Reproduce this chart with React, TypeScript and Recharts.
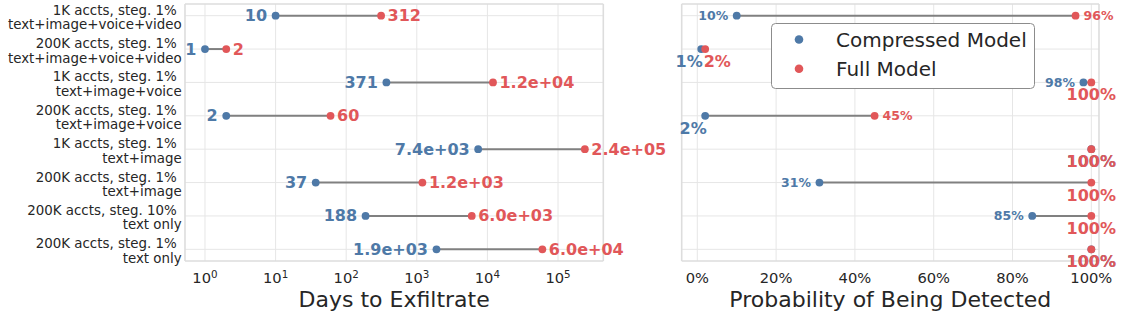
import React from 'react';
import {
  ScatterChart,
  Scatter,
  XAxis,
  YAxis,
  CartesianGrid,
  Legend,
  Label,
} from 'recharts';

const categories = [
  '1K accts, steg. 1%\ntext+image+voice+video',
  '200K accts, steg. 1%\ntext+image+voice+video',
  '1K accts, steg. 1%\ntext+image+voice',
  '200K accts, steg. 1%\ntext+image+voice',
  '1K accts, steg. 1%\ntext+image',
  '200K accts, steg. 1%\ntext+image',
  '200K accts, steg. 10%\ntext only',
  '200K accts, steg. 1%\ntext only',
];
const compressedDays = [10, 1, 371, 2, 7400, 37, 188, 1900];
const fullDays = [312, 2, 12000, 60, 240000, 1200, 6000, 60000];
const compressedDetect = [10, 1, 98, 2, 100, 31, 85, 100];
const fullDetect = [96, 2, 100, 45, 100, 100, 100, 100];
const dayTicks = [1, 10, 100, 1000, 10000, 100000];
const pctTicks = [0, 20, 40, 60, 80, 100];
const seriesNames = ['Compressed Model', 'Full Model'];
const xTitles = ['Days to Exfiltrate', 'Probability of Being Detected'];

const BLUE = '#4e79a7';
const RED = '#e15759';
const TEXT = '#262626';
const GRID = '#e6e6e6';
const SPINE = '#dddddd';
const FONT = "'DejaVu Sans', sans-serif";

const rowIdx = categories.map((_, i) => i);
const yDomain: [number, number] = [-0.35, 7.35];
const dayDomain: [number, number] = [0.521, 438000];
const pctDomain: [number, number] = [-3.96, 101.95];

const fmtDays = (v: number) =>
  v >= 1000
    ? v.toExponential(1).replace(/e([+-])(\d+)$/, (_m, s, d) => 'e' + s + (d.length < 2 ? '0' + d : d))
    : String(Math.round(v));
const fmtPct = (v: number) => `${Math.round(v)}%`;

const compDaysData = rowIdx.map((i) => ({ x: compressedDays[i], y: i, label: fmtDays(compressedDays[i]) }));
const fullDaysData = rowIdx.map((i) => ({ x: fullDays[i], y: i, label: fmtDays(fullDays[i]) }));
const compPctData = rowIdx.map((i) => ({ x: compressedDetect[i], y: i, label: fmtPct(compressedDetect[i]) }));
const fullPctData = rowIdx.map((i) => ({ x: fullDetect[i], y: i, label: fmtPct(fullDetect[i]) }));

const Empty = () => <g />;
const EmptyTick = () => <g />;

const dayShape = (color: string, side: 'left' | 'right') => (props: any) => {
  const { cx, cy, payload } = props;
  const left = side === 'left';
  return (
    <g>
      <circle cx={cx} cy={cy} r={3.9} fill={color} />
      <text
        x={left ? cx - 8.5 : cx + 6.5}
        y={cy}
        textAnchor={left ? 'end' : 'start'}
        dominantBaseline="central"
        fontSize={16}
        fontWeight="bold"
        fontFamily={FONT}
        fill={color}
      >
        {payload.label}
      </text>
    </g>
  );
};

const pctShape = (color: string, side: 'left' | 'right') => (props: any) => {
  const { cx, cy, payload } = props;
  const v = payload.x;
  const left = side === 'left';
  const below = v < 5 || v > 99;
  let tx: number;
  let anchor: 'start' | 'middle' | 'end';
  if (below) {
    if (v > 99) {
      anchor = 'middle';
      tx = cx;
    } else {
      anchor = left ? 'end' : 'start';
      tx = left ? cx + 1.5 : cx - 1.5;
    }
  } else {
    anchor = left ? 'end' : 'start';
    tx = left ? cx - 8.5 : cx + 8;
  }
  return (
    <g>
      <circle cx={cx} cy={cy} r={3.9} fill={color} />
      <text
        x={tx}
        y={below ? cy + 12.5 : cy}
        textAnchor={anchor}
        dominantBaseline="central"
        fontSize={below ? 16 : 12.5}
        fontWeight="bold"
        fontFamily={FONT}
        fill={color}
      >
        {payload.label}
      </text>
    </g>
  );
};

const CatTick = (props: any) => {
  const { x, y, payload } = props;
  const [l1, l2] = categories[payload.value].split('\n');
  return (
    <g>
      <text x={x - 8.3} y={y - 5.5} textAnchor="end" dominantBaseline="central" fontSize={13.4} fontFamily={FONT} fill={TEXT}>
        {l1}
      </text>
      <text x={x - 3.3} y={y + 9} textAnchor="end" dominantBaseline="central" fontSize={13.4} fontFamily={FONT} fill={TEXT}>
        {l2}
      </text>
    </g>
  );
};

const LogTick = (props: any) => {
  const { x, y, payload } = props;
  const exp = Math.round(Math.log10(payload.value));
  return (
    <text x={x} y={y + 22.3} textAnchor="middle" fontSize={14.7} fontFamily={FONT} fill={TEXT}>
      <tspan>10</tspan>
      <tspan dy={-5} fontSize={10.3}>
        {exp}
      </tspan>
    </text>
  );
};

const PctTick = (props: any) => {
  const { x, y, payload } = props;
  return (
    <text x={x} y={y + 22.3} textAnchor="middle" fontSize={14.7} fontFamily={FONT} fill={TEXT}>
      {fmtPct(payload.value)}
    </text>
  );
};

const titleContent = (text: string) => (props: any) => {
  const vb = props.viewBox || {};
  return (
    <text
      x={vb.x + vb.width / 2}
      y={vb.y + 38}
      textAnchor="middle"
      dominantBaseline="central"
      fontSize={22}
      fontFamily={FONT}
      fill={TEXT}
    >
      {text}
    </text>
  );
};

const LegendBox = () => (
  <svg width={264} height={66} style={{ display: 'block' }}>
    <rect x={0.5} y={0.5} width={263} height={65} rx={4} ry={4} fill="#ffffff" stroke="#8c8c8c" strokeWidth={1} />
    {seriesNames.map((name, i) => (
      <g key={name}>
        <circle cx={28} cy={16.5 + i * 29.3} r={4.3} fill={i === 0 ? BLUE : RED} />
        <text x={65} y={16.5 + i * 29.3} dominantBaseline="central" fontSize={20} fontFamily={FONT} fill={TEXT}>
          {name}
        </text>
      </g>
    ))}
  </svg>
);

const segLine = { stroke: '#808080', strokeWidth: 2 };

const LEFT = { w: 680, h: 316, margin: { top: 4, right: 76.7, bottom: 0, left: 0 } };
const RIGHT = { w: 521, h: 316, margin: { top: 4, right: 22, bottom: 0, left: 81.7 } };
const layer: React.CSSProperties = { position: 'absolute', left: 0, top: 0 };

const dayXAxis = (tick: any, title: boolean) => (
  <XAxis
    dataKey="x"
    type="number"
    scale="log"
    domain={dayDomain}
    ticks={dayTicks}
    interval={0}
    height={55}
    axisLine={false}
    tickLine={false}
    tickSize={0}
    tickMargin={0}
    tick={tick}
  >
    {title ? <Label content={titleContent(xTitles[0])} /> : null}
  </XAxis>
);

const pctXAxis = (tick: any, title: boolean) => (
  <XAxis
    dataKey="x"
    type="number"
    domain={pctDomain}
    ticks={pctTicks}
    interval={0}
    height={55}
    axisLine={false}
    tickLine={false}
    tickSize={0}
    tickMargin={0}
    tick={tick}
  >
    {title ? <Label content={titleContent(xTitles[1])} /> : null}
  </XAxis>
);

const rowYAxis = (tick: any, width: number) => (
  <YAxis
    dataKey="y"
    type="number"
    domain={yDomain}
    reversed
    ticks={rowIdx}
    interval={0}
    width={width}
    axisLine={false}
    tickLine={false}
    tickSize={0}
    tickMargin={0}
    tick={tick}
  />
);

export default function App() {
  return (
    <div style={{ position: 'absolute', left: 0, top: 0, width: 1121, height: 316, background: '#ffffff' }}>
      {/* left panel: background layer (grid, spines, axes) */}
      <div style={{ position: 'absolute', left: 0, top: 0, width: LEFT.w, height: LEFT.h }}>
        <div style={layer}>
          <ScatterChart width={LEFT.w} height={LEFT.h} margin={LEFT.margin} style={{ overflow: 'visible' }}>
            <CartesianGrid stroke={GRID} strokeWidth={1} horizontalValues={rowIdx} verticalValues={dayTicks} />
            <CartesianGrid stroke={SPINE} strokeWidth={1.6} horizontalValues={yDomain} verticalValues={dayDomain} />
            {dayXAxis(LogTick, true)}
            {rowYAxis(CatTick, 185)}
            <Scatter data={[...compDaysData, ...fullDaysData]} shape={Empty} legendType="none" isAnimationActive={false} />
          </ScatterChart>
        </div>
        {/* left panel: foreground layer (segments, dots, labels) */}
        <div style={layer}>
          <ScatterChart width={LEFT.w} height={LEFT.h} margin={LEFT.margin} style={{ overflow: 'visible' }}>
            {dayXAxis(EmptyTick, false)}
            {rowYAxis(EmptyTick, 185)}
            {rowIdx.map((i) => (
              <Scatter
                key={`seg-d-${i}`}
                data={[
                  { x: compressedDays[i], y: i },
                  { x: fullDays[i], y: i },
                ]}
                line={segLine}
                shape={Empty}
                legendType="none"
                isAnimationActive={false}
              />
            ))}
            <Scatter name={seriesNames[0]} data={compDaysData} shape={dayShape(BLUE, 'left')} isAnimationActive={false} />
            <Scatter name={seriesNames[1]} data={fullDaysData} shape={dayShape(RED, 'right')} isAnimationActive={false} />
          </ScatterChart>
        </div>
      </div>
      {/* right panel */}
      <div style={{ position: 'absolute', left: 600, top: 0, width: RIGHT.w, height: RIGHT.h }}>
        <div style={layer}>
          <ScatterChart width={RIGHT.w} height={RIGHT.h} margin={RIGHT.margin} style={{ overflow: 'visible' }}>
            <CartesianGrid stroke={GRID} strokeWidth={1} horizontalValues={rowIdx} verticalValues={pctTicks} />
            <CartesianGrid stroke={SPINE} strokeWidth={1.6} horizontalValues={yDomain} verticalValues={pctDomain} />
            {pctXAxis(PctTick, true)}
            {rowYAxis(EmptyTick, 0)}
            <Scatter data={[...compPctData, ...fullPctData]} shape={Empty} legendType="none" isAnimationActive={false} />
          </ScatterChart>
        </div>
        <div style={layer}>
          <ScatterChart width={RIGHT.w} height={RIGHT.h} margin={RIGHT.margin} style={{ overflow: 'visible' }}>
            {pctXAxis(EmptyTick, false)}
            {rowYAxis(EmptyTick, 0)}
            {rowIdx.map((i) => (
              <Scatter
                key={`seg-p-${i}`}
                data={[
                  { x: compressedDetect[i], y: i },
                  { x: fullDetect[i], y: i },
                ]}
                line={segLine}
                shape={Empty}
                legendType="none"
                isAnimationActive={false}
              />
            ))}
            <Scatter name={seriesNames[0]} data={compPctData} shape={pctShape(BLUE, 'left')} isAnimationActive={false} />
            <Scatter name={seriesNames[1]} data={fullPctData} shape={pctShape(RED, 'right')} isAnimationActive={false} />
            <Legend
              layout="horizontal"
              verticalAlign="middle"
              align="center"
              content={LegendBox}
              wrapperStyle={{ left: 170.7, top: 23.3, width: 264, height: 66 }}
            />
          </ScatterChart>
        </div>
      </div>
    </div>
  );
}
